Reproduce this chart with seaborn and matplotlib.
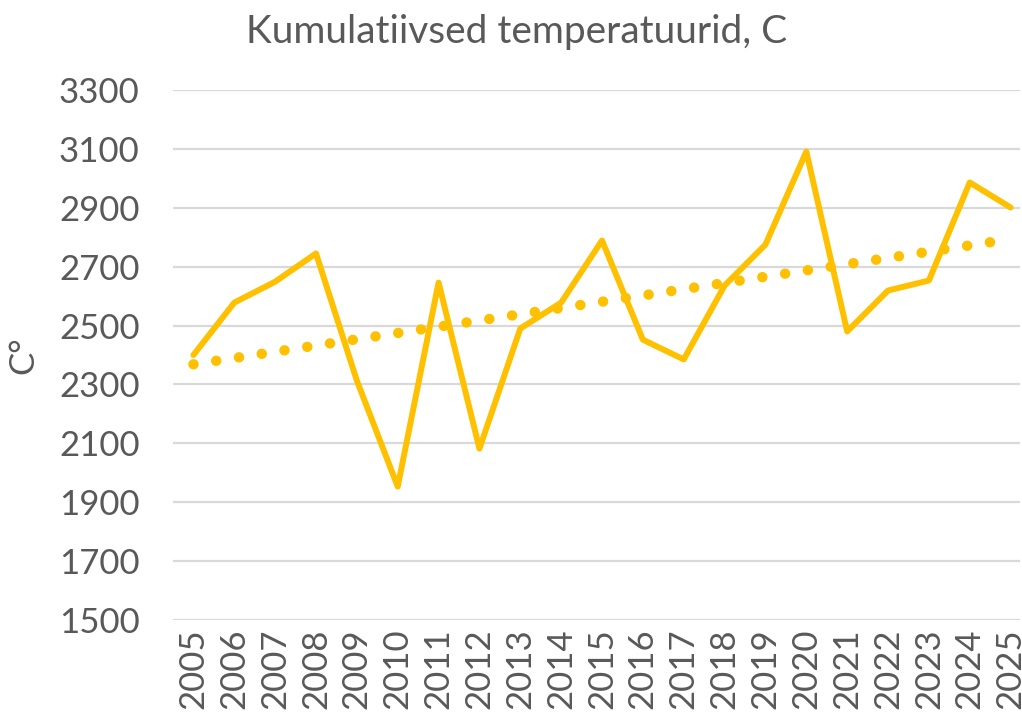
import numpy as np
import pandas as pd
import matplotlib
matplotlib.use("Agg")
import matplotlib.pyplot as plt
import seaborn as sns

# === Data ===
years = list(range(2005, 2026))
temps = [2400, 2578, 2649, 2745, 2313, 1953, 2646, 2082, 2490, 2578, 2789,
         2452, 2385, 2636, 2775, 3091, 2480, 2619, 2653, 2986, 2901]
yticks = [1500, 1700, 1900, 2100, 2300, 2500, 2700, 2900, 3100, 3300]

df = pd.DataFrame({"year": years, "temp": temps})

# linear trend (like the Excel trendline)
coef = np.polyfit(df["year"], df["temp"], 1)
df["trend"] = np.polyval(coef, df["year"])

# === Style ===
sns.set_theme(style="white")
plt.rcParams["font.family"] = ["Lato", "DejaVu Sans"]
text_color = "#595959"
line_color = "#FFC000"

fig = plt.figure(figsize=(10.22, 7.21), dpi=100)
ax = fig.add_axes([173 / 1022, 1 - 620 / 721, (1020 - 173) / 1022, (620 - 90) / 721])

sns.lineplot(data=df, x="year", y="trend", ax=ax, color=line_color,
             linewidth=7.5, dashes=False, solid_capstyle="round")
ax.lines[-1].set_linestyle((0, (0.01, 2.2)))
ax.lines[-1].set_dash_capstyle("round")
sns.lineplot(data=df, x="year", y="temp", ax=ax, color=line_color, linewidth=4.3)

ax.set_xlim(2004.5, 2025.23)
ax.set_ylim(1500, 3300)
ax.set_yticks(yticks)
ax.set_xticks(years)
ax.set_xticklabels([str(y) for y in years], rotation=90)
ax.tick_params(axis="both", labelsize=25, colors=text_color, length=0)
ax.tick_params(axis="y", pad=24)
ax.tick_params(axis="x", pad=6)
ax.grid(axis="y", color="#D9D9D9", linewidth=1.6)
ax.set_axisbelow(True)
for s in ax.spines.values():
    s.set_visible(False)

ax.set_xlabel("")
ax.set_ylabel("C°", fontsize=25, color=text_color, labelpad=14)
fig.text(517 / 1022, 1 - 32 / 721, "Kumulatiivsed temperatuurid, C",
         fontsize=28, color=text_color, ha="center", va="center")

fig.savefig("out.png", dpi=100)
